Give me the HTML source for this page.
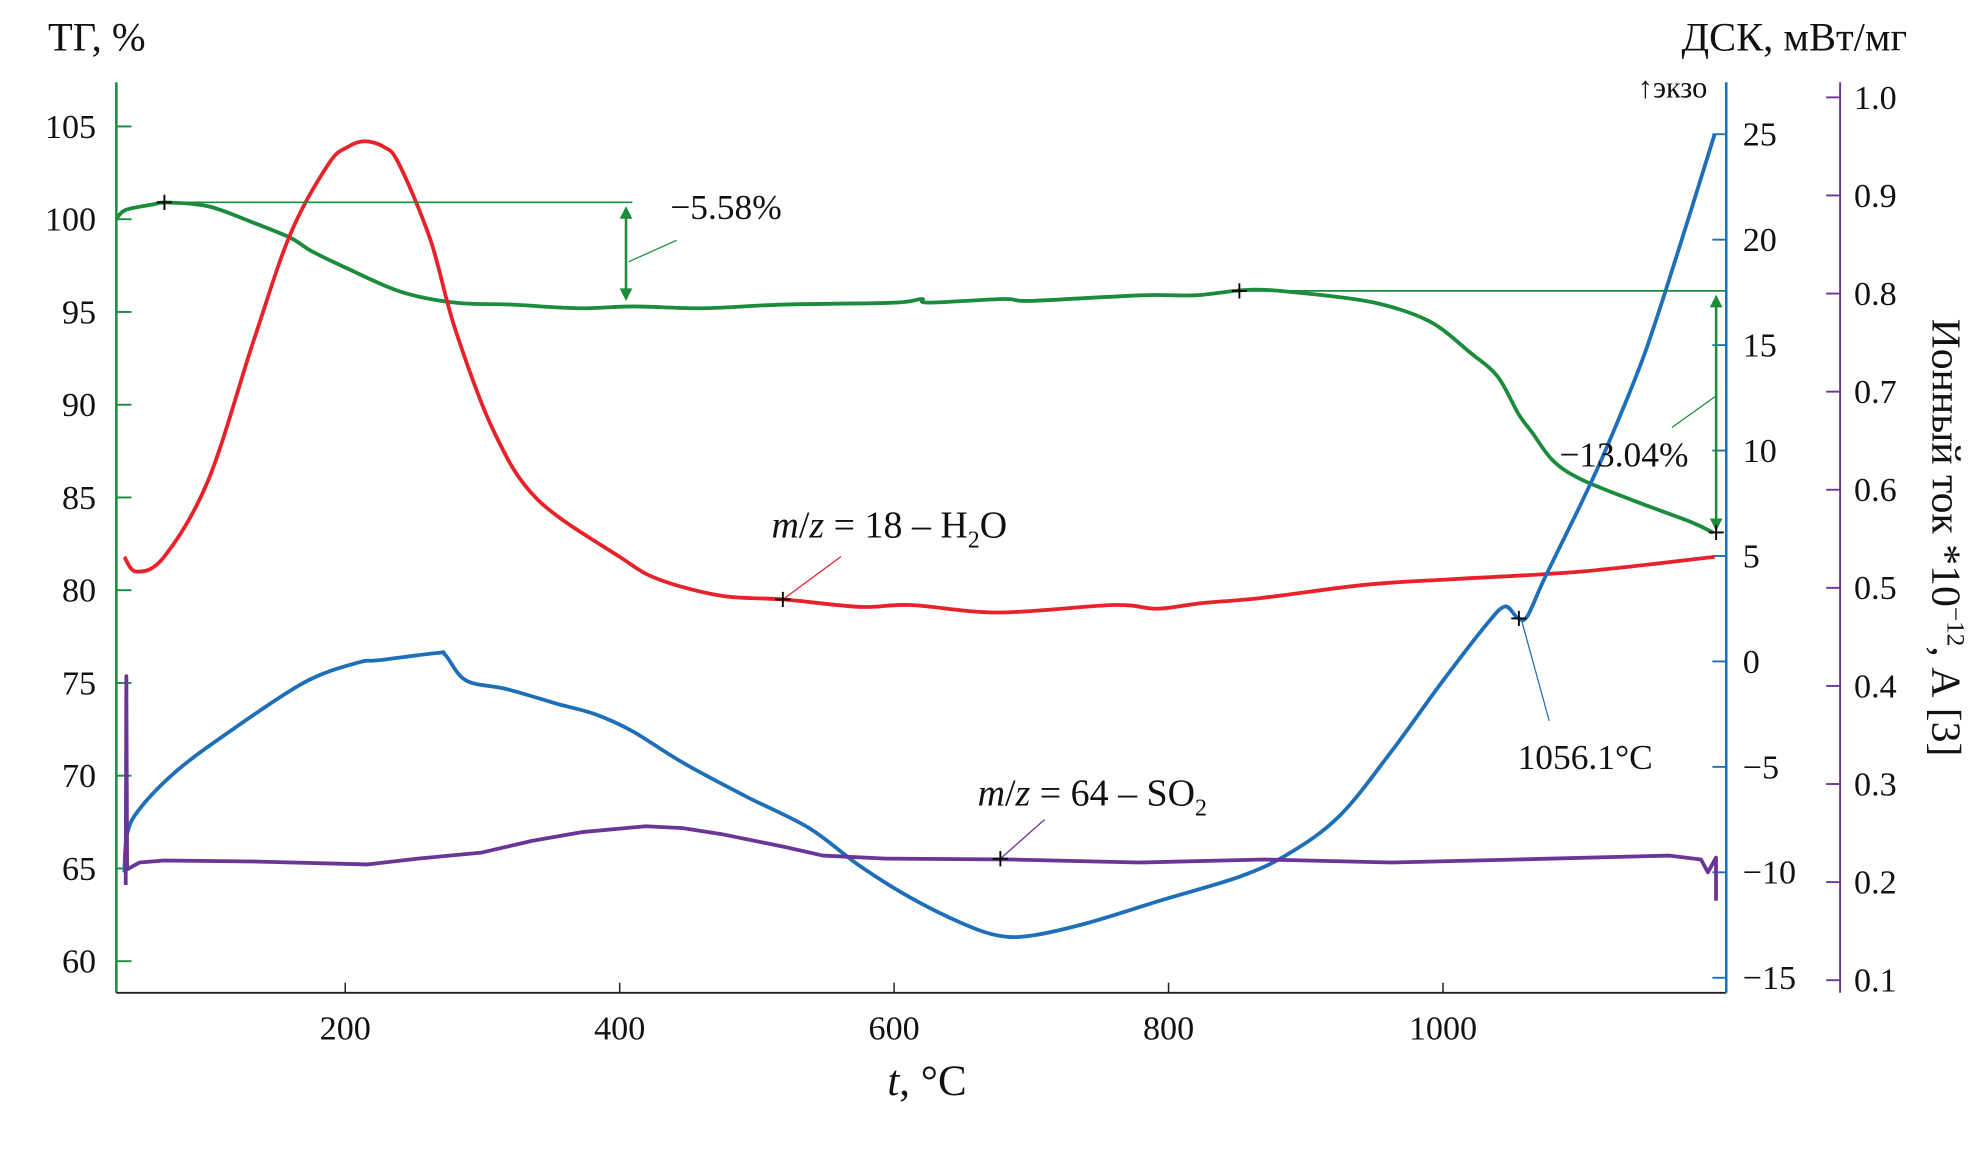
<!DOCTYPE html>
<html><head><meta charset="utf-8"><style>
html,body{margin:0;padding:0;background:#fff}
svg{display:block}
text{font-family:"Liberation Serif",serif;fill:#111}
</style></head><body>
<svg width="1983" height="1150" viewBox="0 0 1568 909.3" preserveAspectRatio="none" xmlns="http://www.w3.org/2000/svg">
<g id="axes"></g>
<g id="series"></g>
<g id="annot"></g>
<text x="38" y="40" font-size="32">ТГ, %</text>
<text x="1508" y="40" font-size="32" text-anchor="end">ДСК, мВт/мг</text>
<text x="1350" y="77" font-size="24" text-anchor="end">↑экзо</text>
<text x="733" y="866" font-size="34" text-anchor="middle"><tspan font-style="italic">t</tspan>, °C</text>
<text transform="translate(1528,425) rotate(90)" font-size="33" text-anchor="middle">Ионный ток *10<tspan font-size="20" dy="-12">−12</tspan><tspan dy="12">, А [3]</tspan></text>
<text x="610" y="425" font-size="30"><tspan font-style="italic">m</tspan>/<tspan font-style="italic">z</tspan> = 18 – H<tspan font-size="19" dy="8">2</tspan><tspan dy="-8">O</tspan></text>
<text x="773" y="637" font-size="30"><tspan font-style="italic">m</tspan>/<tspan font-style="italic">z</tspan> = 64 – SO<tspan font-size="19" dy="8">2</tspan></text>
<text x="530" y="173" font-size="28">−5.58%</text>
<text x="1233" y="369" font-size="28">−13.04%</text>
<text x="1200" y="608" font-size="28">1056.1°C</text>
</svg>
<script>
const xTicks=[200,400,600,800,1000];
const tgTicks=[60,65,70,75,80,85,90,95,100,105];
const dscTicks=[-15,-10,-5,0,5,10,15,20,25];
const ionTicks=[0.1,0.2,0.3,0.4,0.5,0.6,0.7,0.8,0.9,1.0];
const tgT=[33,40,60,70,100,130,160,175,200,240,280,320,370,410,460,520,600,620,625,680,700,780,820,860,900,950,990,1020,1040,1055,1065,1080,1100,1140,1180,1197];
const tgV=[100.0,100.5,100.8,100.9,100.7,99.9,99.0,98.3,97.4,96.1,95.5,95.4,95.2,95.3,95.2,95.4,95.5,95.7,95.5,95.7,95.6,95.9,95.9,96.2,96.0,95.5,94.5,92.8,91.5,89.5,88.5,87.0,86.0,84.8,83.7,83.1];
const h2oT=[39,48,68,100,133,160,188,202,214,228,239,262,280,308,340,400,428,474,520,575,612,676,760,792,824,870,944,1008,1100,1198];
const h2oV=[81.8,81.0,81.8,85.9,93.4,99.2,103.0,103.9,104.2,103.9,103.0,98.9,94.1,88.6,84.9,81.8,80.6,79.7,79.5,79.1,79.2,78.8,79.2,79.0,79.3,79.6,80.3,80.6,81.0,81.8];
const dscT=[39,41,50,77,114,170,209,225,267,273,288,317,354,382,409,446,492,538,575,612,649,676,700,741,796,852,888,925,962,999,1031,1045,1054,1061,1073,1091,1100,1119,1147,1174,1198];
const dscV=[-10.0,-8.2,-7.0,-5.2,-3.4,-1.0,-0.06,0.06,0.4,0.3,-0.9,-1.3,-2.0,-2.5,-3.3,-4.8,-6.4,-7.9,-9.7,-11.2,-12.4,-13.0,-13.0,-12.4,-11.3,-10.2,-9.1,-7.3,-4.3,-1.0,1.7,2.6,2.1,2.1,3.8,6.2,7.4,10.1,14.6,20.0,25.0];
const so2T=[40,40.5,41,50,68,133,216,253,299,336,373,419,446,474,520,548,594,686,778,870,962,1054,1165,1188,1193,1199,1199];
const so2V=[0.197,0.410,0.213,0.220,0.222,0.221,0.218,0.224,0.230,0.242,0.251,0.257,0.255,0.249,0.236,0.227,0.224,0.223,0.220,0.223,0.220,0.223,0.227,0.223,0.210,0.225,0.181];

const NS="http://www.w3.org/2000/svg";
const X=t=>56+t*1.085;
const YT=v=>100+(105-v)*14.667;
const YD=v=>523-v*16.675;
const YI=v=>77+(1.0-v)*775.6;
function mk(parent,tag,attrs){const e=document.createElementNS(NS,tag);for(const k in attrs)e.setAttribute(k,attrs[k]);document.getElementById(parent).appendChild(e);return e;}
function ln(p,x1,y1,x2,y2,c,w){return mk(p,'line',{x1,y1,x2,y2,stroke:c,'stroke-width':w});}
function tx(p,x,y,s,anchor,size){const e=mk(p,'text',{x,y,'text-anchor':anchor,'font-size':size});e.textContent=s;return e;}
const G='#1a8c3c',B='#1f6fb8',P='#6a3597',R='#e8222a';
let e;
e=ln('axes',92,65,92,785,G,2);


e=ln('axes',92,785,1365,785,'#222',1.5);


e=ln('axes',1365,65,1365,785,B,2);


e=ln('axes',1455,65,1455,785,P,1.5);


xTicks.forEach(t=>{ln('axes',X(t),785,X(t),777,'#222',1.2);e=tx('axes',X(t),822,String(t),'middle',27);

});
tgTicks.forEach(v=>{ln('axes',92,YT(v),104,YT(v),G,1.5);e=tx('axes',76,YT(v)+9,String(v),'end',27);

});
dscTicks.forEach(v=>{ln('axes',1354,YD(v),1365,YD(v),B,1.5);e=tx('axes',1378,YD(v)+9,(v<0?'−':'')+Math.abs(v),'start',27);

});
ionTicks.forEach(v=>{ln('axes',1444,YI(v),1455,YI(v),P,1.5);e=tx('axes',1466,YI(v)+9,v.toFixed(1),'start',27);

});
function smoothD(pts){let d='M'+pts[0][0].toFixed(1)+','+pts[0][1].toFixed(1);for(let i=0;i<pts.length-1;i++){const p0=pts[Math.max(0,i-1)],p1=pts[i],p2=pts[i+1],p3=pts[Math.min(pts.length-1,i+2)];const c1x=p1[0]+(p2[0]-p0[0])/6,c1y=p1[1]+(p2[1]-p0[1])/6,c2x=p2[0]-(p3[0]-p1[0])/6,c2y=p2[1]-(p3[1]-p1[1])/6;d+='C'+c1x.toFixed(1)+','+c1y.toFixed(1)+' '+c2x.toFixed(1)+','+c2y.toFixed(1)+' '+p2[0].toFixed(1)+','+p2[1].toFixed(1);}return d;}
function path(ts,vs,Y,c,name,smooth){const pts=ts.map((t,i)=>[X(t),Y(vs[i])]);const d=smooth?smoothD(pts):pts.map((q,i)=>(i?'L':'M')+q[0].toFixed(1)+','+q[1].toFixed(1)).join('');const el=mk('series','path',{d,fill:'none',stroke:c,'stroke-width':3,'stroke-linejoin':'round'});

}
path(tgT,tgV,YT,G,'tg-line',true);
path(h2oT,h2oV,YT,R,'h2o-line',true);
path(dscT,dscV,YD,B,'dsc-line',true);
path(so2T,so2V,YI,P,'so2-line',false);
ln('annot',130,160,500,160,G,1.3);
ln('annot',980,230,1365,230,G,1.3);
function arrow(x,y1,y2){ln('annot',x,y1+6,x,y2-6,G,2);mk('annot','path',{d:'M'+(x-5)+','+(y1+10)+'L'+x+','+y1+'L'+(x+5)+','+(y1+10)+'Z',fill:G});mk('annot','path',{d:'M'+(x-5)+','+(y2-10)+'L'+x+','+y2+'L'+(x+5)+','+(y2-10)+'Z',fill:G});}
arrow(495,163,238);arrow(1357,233,420);
ln('annot',497,207,535,190,G,1);
ln('annot',1357,313,1322,338,G,1);
ln('annot',619,474,665,440,R,1);
ln('annot',791,679,826,648,P,1);
ln('annot',1203,490,1225,570,B,1);
[[130,160],[980,230],[1357,421],[619,474],[791,679],[1201,489]].forEach(([x,y])=>{ln('annot',x-6,y,x+6,y,'#000',1.5);ln('annot',x,y-6,x,y+6,'#000',1.5);});
</script>
</body></html>
